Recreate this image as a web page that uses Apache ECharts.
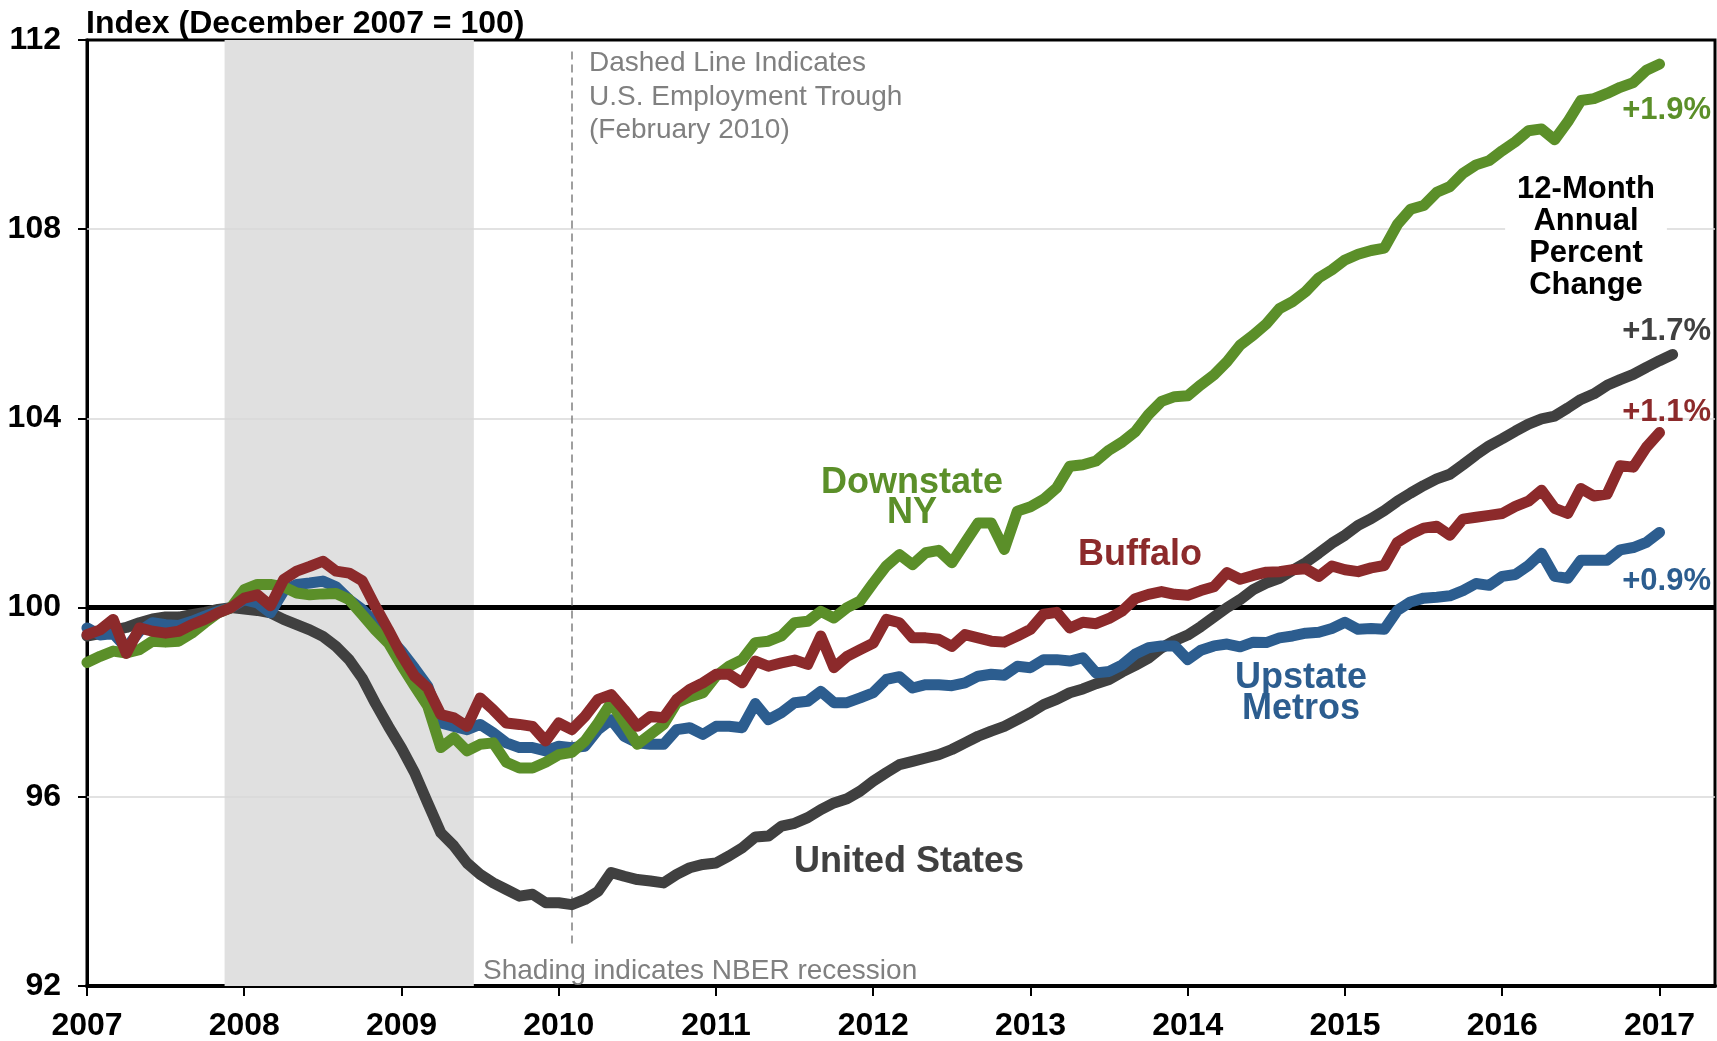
<!DOCTYPE html>
<html>
<head>
<meta charset="utf-8">
<title>Employment Index</title>
<script src="https://cdn.jsdelivr.net/npm/echarts@6/dist/echarts.min.js"></script>
<style>
  html, body { margin: 0; padding: 0; background: #fff; }
  #chart { width: 1717px; height: 1041px; }
</style>
</head>
<body>
<div id="chart"></div>
<script>
// monthly index values, Dec 2007 = 100, first point is Jan 2007
const startYear = 2007
const yearTicks = [2007, 2008, 2009, 2010, 2011, 2012, 2013, 2014, 2015, 2016, 2017]
const yTicks = [92, 96, 100, 104, 108, 112]

const unitedStates = [
  99.40, 99.45, 99.52, 99.58, 99.68, 99.76, 99.80, 99.80, 99.85, 99.90, 99.96, 100.00,
  99.97, 99.94, 99.89, 99.75, 99.64, 99.53, 99.39, 99.18, 98.90, 98.51, 97.98, 97.49,
  97.03, 96.51, 95.87, 95.24, 94.96, 94.60, 94.36, 94.18, 94.04, 93.90, 93.94, 93.76,
  93.76, 93.72, 93.83, 94.00, 94.40, 94.32, 94.25, 94.22, 94.18, 94.36, 94.50, 94.57,
  94.60, 94.75, 94.92, 95.15, 95.17, 95.38, 95.44, 95.56, 95.73, 95.87, 95.96, 96.12,
  96.33, 96.51, 96.68, 96.75, 96.82, 96.89, 97.00, 97.14, 97.28, 97.39, 97.49, 97.63,
  97.78, 97.95, 98.06, 98.20, 98.28, 98.39, 98.48, 98.64, 98.78, 98.93, 99.15, 99.30,
  99.42, 99.60, 99.80, 100.00, 100.17, 100.38, 100.52, 100.62, 100.79, 100.95, 101.15, 101.36,
  101.53, 101.74, 101.88, 102.05, 102.25, 102.42, 102.58, 102.72, 102.82, 103.02, 103.23, 103.42,
  103.57, 103.73, 103.88, 103.99, 104.05, 104.22, 104.40, 104.52, 104.70, 104.82, 104.93, 105.08,
  105.22, 105.35
]

const downstateNY = [
  98.84, 98.97, 99.08, 99.04, 99.11, 99.29, 99.27, 99.29, 99.46, 99.68, 99.89, 100.00,
  100.38, 100.49, 100.49, 100.44, 100.31, 100.27, 100.29, 100.30, 100.17, 99.85, 99.53, 99.25,
  98.78, 98.34, 97.92, 97.04, 97.25, 96.97, 97.11, 97.14, 96.73, 96.61, 96.61, 96.73,
  96.89, 96.94, 97.18, 97.56, 97.99, 97.56, 97.11, 97.32, 97.53, 97.99, 98.11, 98.20,
  98.55, 98.76, 98.90, 99.26, 99.29, 99.40, 99.68, 99.71, 99.92, 99.78, 100.00, 100.14,
  100.52, 100.88, 101.12, 100.91, 101.16, 101.21, 100.95, 101.37, 101.79, 101.79, 101.23, 102.04,
  102.13, 102.29, 102.53, 102.99, 103.02, 103.10, 103.33, 103.50, 103.72, 104.08, 104.36, 104.46,
  104.48, 104.71, 104.92, 105.20, 105.55, 105.76, 106.00, 106.32, 106.47, 106.68, 106.97, 107.14,
  107.35, 107.47, 107.55, 107.60, 108.10, 108.42, 108.50, 108.78, 108.90, 109.18, 109.36, 109.45,
  109.66, 109.85, 110.08, 110.12, 109.89, 110.27, 110.72, 110.76, 110.87, 111.00, 111.10, 111.36,
  111.49
]

const buffalo = [
  99.43, 99.53, 99.75, 99.03, 99.57, 99.50, 99.46, 99.50, 99.64, 99.75, 99.89, 100.00,
  100.20, 100.27, 100.04, 100.59, 100.77, 100.87, 100.98, 100.77, 100.73, 100.57, 100.03, 99.53,
  99.00, 98.55, 98.30, 97.74, 97.67, 97.49, 98.09, 97.84, 97.56, 97.53, 97.49, 97.18,
  97.56, 97.42, 97.70, 98.06, 98.16, 97.84, 97.49, 97.70, 97.67, 98.06, 98.27, 98.41,
  98.59, 98.59, 98.41, 98.87, 98.76, 98.83, 98.89, 98.80, 99.40, 98.73, 98.97, 99.11,
  99.25, 99.75, 99.68, 99.36, 99.36, 99.33, 99.18, 99.43, 99.36, 99.29, 99.27, 99.40,
  99.54, 99.86, 99.90, 99.57, 99.69, 99.66, 99.77, 99.93, 100.19, 100.28, 100.34, 100.28,
  100.26, 100.36, 100.44, 100.74, 100.60, 100.68, 100.75, 100.76, 100.80, 100.82, 100.66, 100.88,
  100.80, 100.76, 100.84, 100.89, 101.38, 101.55, 101.68, 101.72, 101.53, 101.87, 101.91, 101.95,
  101.99, 102.14, 102.25, 102.48, 102.10, 101.99, 102.52, 102.36, 102.40, 103.00, 102.97, 103.39,
  103.70
]

const upstateMetros = [
  99.57, 99.42, 99.45, 99.15, 99.50, 99.68, 99.64, 99.62, 99.71, 99.82, 99.92, 100.00,
  100.17, 100.10, 99.89, 100.35, 100.49, 100.52, 100.56, 100.44, 100.17, 99.96, 99.68, 99.39,
  99.08, 98.72, 98.34, 97.56, 97.49, 97.42, 97.53, 97.35, 97.14, 97.04, 97.04, 96.97,
  97.07, 97.04, 97.07, 97.42, 97.63, 97.28, 97.14, 97.11, 97.11, 97.42, 97.46, 97.32,
  97.49, 97.49, 97.46, 97.97, 97.63, 97.78, 97.99, 98.02, 98.23, 97.99, 97.99, 98.09,
  98.20, 98.48, 98.54, 98.30, 98.37, 98.37, 98.35, 98.41, 98.55, 98.59, 98.57, 98.76,
  98.73, 98.90, 98.90, 98.87, 98.94, 98.62, 98.65, 98.79, 99.02, 99.15, 99.19, 99.19,
  98.90, 99.10, 99.19, 99.23, 99.17, 99.27, 99.26, 99.36, 99.40, 99.46, 99.48, 99.56,
  99.69, 99.54, 99.56, 99.54, 99.94, 100.12, 100.20, 100.22, 100.25, 100.36, 100.51, 100.47,
  100.66, 100.70, 100.89, 101.15, 100.66, 100.62, 101.00, 101.00, 101.00, 101.22, 101.27, 101.38,
  101.59
]

// NBER recession band and the Feb 2010 employment trough
const recession = [2007.875, 2009.46]
const troughDate = 2010 + 1 / 12
const gridValues = [96, 104, 108]

const font = "'Liberation Sans', Arial, sans-serif"
const colors = {
  us: '#404040',
  downstate: '#5b8f29',
  buffalo: '#8c2a2b',
  upstate: '#2c5d8f',
  note: '#808080'
}

const toPoints = (values) => values.map((v, i) => [startYear + i / 12, v])

const lineSeries = (name, values, color, z) => ({
  name: name,
  type: 'line',
  data: toPoints(values),
  symbol: 'none',
  showSymbol: false,
  z: z,
  silent: true,
  lineStyle: { color: color, width: 11, cap: 'round', join: 'round' },
  emphasis: { disabled: true }
})

const usSeries = lineSeries('United States', unitedStates, colors.us, 2)
usSeries.markArea = {
  silent: true,
  z: 1,
  itemStyle: { color: '#e0e0e0' },
  data: [[{ xAxis: recession[0] }, { xAxis: recession[1] }]]
}
usSeries.markLine = {
  silent: true,
  z: 1.5,
  symbol: ['none', 'none'],
  label: { show: false },
  data: gridValues.map(v => ({ yAxis: v, lineStyle: { color: '#d9d9d9', width: 1.5, type: 'solid' } }))
    .concat([
      { yAxis: 100, lineStyle: { color: '#000', width: 5, type: 'solid' } },
      [
        { coord: [troughDate, 92.9], lineStyle: { color: '#808080', width: 1.5, type: [8, 5] } },
        { coord: [troughDate, 111.8] }
      ]
    ])
}

const txt = (text, x, y, color, size, opts) => Object.assign({
  type: 'text',
  x: x,
  y: y,
  z: 100,
  silent: true,
  style: Object.assign({
    text: text,
    fill: color,
    font: (opts && opts.weight || 'bold') + ' ' + size + 'px ' + font,
    textAlign: (opts && opts.align) || 'center',
    textVerticalAlign: 'middle'
  }, opts && opts.style)
})

const option = {
  animation: false,
  backgroundColor: '#fff',
  grid: {
    left: 87, right: 2, top: 40, bottom: 55,
    show: true, borderColor: '#000', borderWidth: 3,
    containLabel: false, outerBoundsMode: 'none'
  },
  xAxis: {
    type: 'value',
    min: 2007,
    max: 2017.353,
    interval: 1,
    axisLine: { show: true, onZero: false, lineStyle: { color: '#000', width: 4 } },
    axisTick: { show: true, customValues: yearTicks, length: 10, lineStyle: { color: '#000', width: 2 } },
    axisLabel: {
      customValues: yearTicks, margin: 24,
      color: '#000', fontSize: 32, fontWeight: 'bold', fontFamily: font,
      formatter: v => String(Math.round(v))
    },
    splitLine: { show: false }
  },
  yAxis: {
    type: 'value',
    min: 92,
    max: 112,
    interval: 4,
    axisLine: { show: true, lineStyle: { color: '#000', width: 3 } },
    axisTick: { show: true, length: 9, lineStyle: { color: '#000', width: 2 } },
    axisLabel: {
      customValues: yTicks, margin: 26,
      color: '#000', fontSize: 32, fontWeight: 'bold', fontFamily: font
    },
    splitLine: { show: false }
  },
  series: [
    usSeries,
    lineSeries('Upstate Metros', upstateMetros, colors.upstate, 3),
    lineSeries('Downstate NY', downstateNY, colors.downstate, 4),
    lineSeries('Buffalo', buffalo, colors.buffalo, 5)
  ],
  graphic: [
    txt('Index (December 2007 = 100)', 86, 24, '#000', 32, { align: 'left' }),
    txt('Dashed Line Indicates', 589, 63, colors.note, 28, { align: 'left', weight: 'normal' }),
    txt('U.S. Employment Trough', 589, 97, colors.note, 28, { align: 'left', weight: 'normal' }),
    txt('(February 2010)', 589, 130, colors.note, 28, { align: 'left', weight: 'normal' }),
    txt('Shading indicates NBER recession', 483, 971, colors.note, 28, { align: 'left', weight: 'normal' }),
    txt('Downstate', 912, 483, colors.downstate, 36),
    txt('NY', 912, 513, colors.downstate, 36),
    txt('Buffalo', 1140, 555, colors.buffalo, 36),
    txt('United States', 909, 862, colors.us, 36),
    txt('Upstate', 1301, 678, colors.upstate, 36),
    txt('Metros', 1301, 709, colors.upstate, 36),
    txt('12-Month\nAnnual\nPercent\nChange', 1586, 237, '#000', 31, {
      style: { lineHeight: 32, backgroundColor: '#fff', padding: [4, 12] }
    }),
    txt('+1.9%', 1711, 110, colors.downstate, 31, { align: 'right' }),
    txt('+1.7%', 1711, 331, colors.us, 31, { align: 'right' }),
    txt('+1.1%', 1711, 412, colors.buffalo, 31, { align: 'right' }),
    txt('+0.9%', 1711, 581, colors.upstate, 31, { align: 'right' })
  ]
}

const chart = echarts.init(document.getElementById('chart'), null, { renderer: 'canvas' })
chart.setOption(option)
</script>
</body>
</html>
